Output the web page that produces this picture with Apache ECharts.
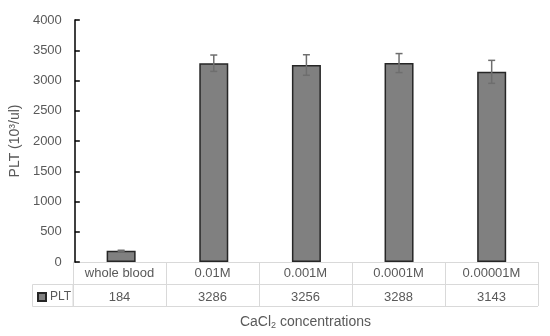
<!DOCTYPE html>
<html><head><meta charset="utf-8">
<script src="https://cdn.jsdelivr.net/npm/echarts@6/dist/echarts.min.js"></script>
<style>html,body{margin:0;padding:0;background:#fff}#c{width:550px;height:336px}</style>
</head><body><div id="c"></div>
<script>
var categories = ['whole blood', '0.01M', '0.001M', '0.0001M', '0.00001M'];
var pltValues = [184, 3286, 3256, 3288, 3143];
var pltErrors = [10, 135, 170, 157, 190];
var yTicks = [0, 500, 1000, 1500, 2000, 2500, 3000, 3500, 4000];
var seriesName = 'PLT';

var FONT = 'Liberation Sans';
var TXT = '#595959';
var GRIDC = '#d9d9d9';

var chart = echarts.init(document.getElementById('c'), null, {renderer: 'canvas'});
var errData = categories.map(function (c, i) { return [i, pltValues[i] - pltErrors[i], pltValues[i] + pltErrors[i]]; });

chart.setOption({
  animation: false,
  textStyle: {fontFamily: FONT},
  grid: [
    {left: 73, top: 20, width: 465, height: 242},
    {left: 73, top: 262, width: 465, height: 44}
  ],
  legend: {
    left: 37, top: 291, padding: 0, itemWidth: 8, itemHeight: 8, itemGap: 4,
    icon: 'rect', data: [seriesName],
    textStyle: {color: TXT, fontSize: 12, fontFamily: FONT, padding: [0, 0, 0, -1]}
  },
  xAxis: [
    {gridIndex: 0, type: 'category', data: categories, axisLine: {show: false}, axisTick: {show: false}, axisLabel: {show: false}},
    {gridIndex: 1, type: 'category', data: categories, position: 'top',
      axisLine: {show: false}, axisTick: {show: false},
      axisLabel: {inside: true, margin: 11, verticalAlign: 'middle', color: TXT, fontSize: 13, fontFamily: FONT},
      splitLine: {show: true, lineStyle: {color: GRIDC, width: 1}}},
    {gridIndex: 1, type: 'category', data: categories, position: 'bottom',
      axisLine: {show: false}, axisTick: {show: false},
      axisLabel: {inside: true, margin: 9, verticalAlign: 'middle', color: TXT, fontSize: 13, fontFamily: FONT,
        formatter: function (v, i) { return String(pltValues[i]); }},
      name: '{a|CaCl}{s|2}{a| concentrations}', nameLocation: 'middle', nameGap: 9,
      nameTextStyle: {rich: {a: {color: TXT, fontSize: 14, fontFamily: FONT}, s: {color: TXT, fontSize: 9, fontFamily: FONT, padding: [6, 0, 0, 0]}}}}
  ],
  yAxis: [
    {gridIndex: 0, type: 'value', min: yTicks[0], max: yTicks[yTicks.length - 1], interval: 500,
      axisLine: {show: true, lineStyle: {color: '#000', width: 1.5}},
      axisTick: {show: true, inside: true, length: 5, lineStyle: {color: '#000', width: 1.5}},
      axisLabel: {color: TXT, fontSize: 13, fontFamily: FONT, margin: 13, formatter: function (v) { return String(v); }},
      splitLine: {show: false},
      name: 'PLT (10³/ul)', nameLocation: 'middle', nameGap: 41, nameRotate: 90,
      nameTextStyle: {color: TXT, fontSize: 14, fontFamily: FONT}},
    {gridIndex: 1, type: 'category', data: ['r1', 'r2'], inverse: true,
      axisLine: {show: true, lineStyle: {color: GRIDC, width: 1}}, axisTick: {show: false}, axisLabel: {show: false},
      splitLine: {show: true, showMinLine: true, showMaxLine: true, lineStyle: {color: GRIDC, width: 1}}}
  ],
  graphic: [
    {type: 'rect', shape: {x: 32.5, y: 284.5, width: 40.5, height: 22}, style: {fill: 'none', stroke: GRIDC, lineWidth: 1}, silent: true}
  ],
  series: [
    {name: seriesName, type: 'bar', xAxisIndex: 0, yAxisIndex: 0, data: pltValues, barWidth: 29,
      itemStyle: {color: '#808080', borderColor: '#262626', borderWidth: 1.5}},
    {name: 'err', type: 'custom', xAxisIndex: 0, yAxisIndex: 0, data: errData, z: 5,
      renderItem: function (params, api) {
        var x = api.value(0);
        var lo = api.coord([x, api.value(1)]);
        var hi = api.coord([x, api.value(2)]);
        var w = 3.5;
        var st = {stroke: '#6e6e6e', lineWidth: 1.5};
        return {type: 'group', children: [
          {type: 'line', shape: {x1: lo[0], y1: lo[1], x2: hi[0], y2: hi[1]}, style: st},
          {type: 'line', shape: {x1: lo[0] - w, y1: lo[1], x2: lo[0] + w, y2: lo[1]}, style: st},
          {type: 'line', shape: {x1: hi[0] - w, y1: hi[1], x2: hi[0] + w, y2: hi[1]}, style: st}
        ]};
      }}
  ]
});
</script></body></html>
